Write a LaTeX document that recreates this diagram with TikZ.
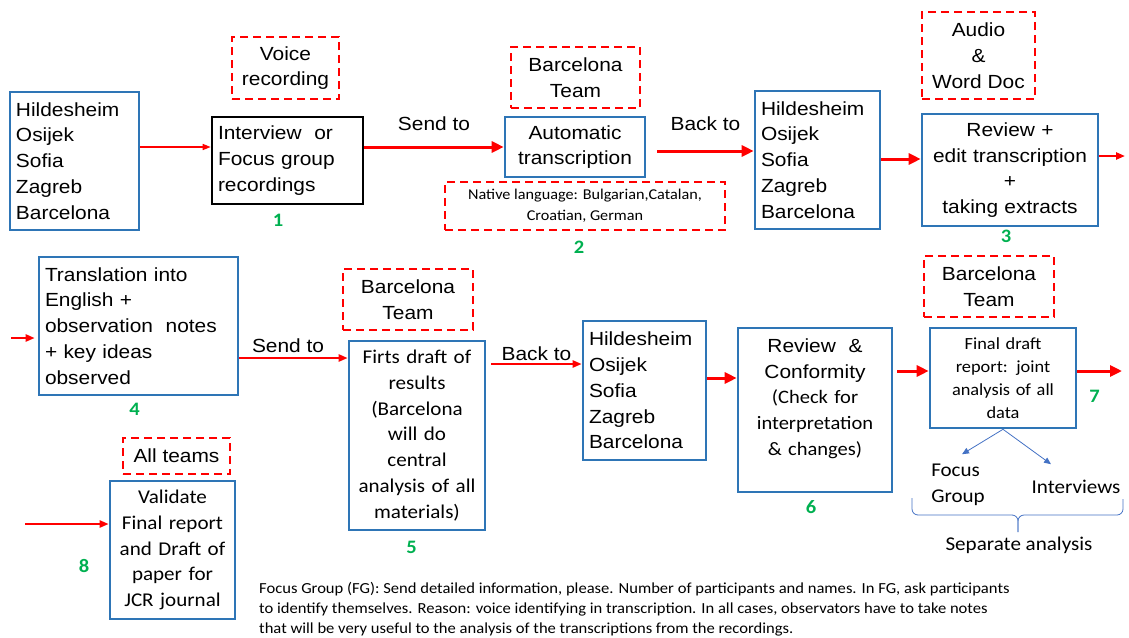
\documentclass[tikz,border=0pt]{standalone}
\usepackage{fontspec}
\usetikzlibrary{positioning, arrows.meta}
\newfontfamily\arialfont[FakeStretch=1.1]{Liberation Sans}
\newfontfamily\calfont[FakeStretch=1.08]{Carlito}
\definecolor{boxblue}{RGB}{46,117,182}
\definecolor{linkblue}{RGB}{68,114,196}
\definecolor{numgreen}{RGB}{0,176,80}
\definecolor{flowred}{RGB}{255,0,0}

\begin{document}
\begin{tikzpicture}[x=1pt, y=-1pt,
    box/.style={draw=boxblue, line width=2.6pt, inner sep=6pt, align=center, font=\arialfont\fontsize{19}{25.8}\selectfont},
    calbox/.style={box, font=\calfont\fontsize{19.5}{25.8}\selectfont},
    note/.style={draw=flowred, line width=2.5pt, dash pattern=on 8pt off 5pt, inner sep=4pt, align=center, font=\arialfont\fontsize{19}{25.8}\selectfont},
    num/.style={text=numgreen, inner sep=0pt, font=\calfont\bfseries\fontsize{19}{19}\selectfont},
    lbl/.style={font=\arialfont\fontsize{19}{25.8}\selectfont},
    cal/.style={align=left, font=\calfont\fontsize{19.5}{25.8}\selectfont},
    flow/.style={draw=flowred, line width=2.2pt, -{Triangle[length=9pt, width=7pt]}},
    thick flow/.style={draw=flowred, line width=3pt, -{Triangle[length=12pt, width=11pt]}},
    thin flow/.style={draw=flowred, line width=1.5pt, -{Triangle[length=8pt, width=6pt]}},
    split/.style={draw=linkblue, line width=0.8pt, -{Triangle[length=7pt, width=6pt]}}]
  \useasboundingbox (0,0) rectangle (1129,637);

  % first row
  \node[box, minimum width=129pt, minimum height=138pt, text width=117pt, align=left] (cities1) at (74.5,161) {Hildesheim\\Osijek\\Sofia\\Zagreb\\Barcelona};
  \node[note, minimum width=107pt, minimum height=62pt] (voice) at (285.5,68) {Voice\\recording};
  \node[box, draw=black, minimum width=151pt, minimum height=87pt, text width=139pt, align=left] (interview) at (287.5,160.5) {Interview\ \ or\\Focus group\\recordings};
  \node[note, minimum width=129pt, minimum height=61pt] (barca1) at (575.5,77.5) {Barcelona\\Team};
  \node[box, minimum width=140pt, minimum height=60pt, text width=128pt] (auto) at (575,147) {Automatic\\transcription};
  \node[note, minimum width=280pt, minimum height=48pt, font=\calfont\fontsize{15}{21}\selectfont] (native) at (585,206) {Native language: Bulgarian,Catalan,\\Croatian, German};
  \node[box, minimum width=125pt, minimum height=138pt, text width=113pt, align=left] (cities2) at (817.5,160) {Hildesheim\\Osijek\\Sofia\\Zagreb\\Barcelona};
  \node[note, minimum width=113pt, minimum height=87pt] (audio) at (978.5,55.5) {Audio\\\&\\Word Doc};
  \node[box, minimum width=176pt, minimum height=112pt, text width=164pt] (review) at (1010,170) {Review +\\edit transcription\\+\\taking extracts};
  \coordinate (out1) at (1125,156);

  % second row
  \coordinate (in1) at (11,338);
  \node[box, minimum width=199pt, minimum height=138pt, text width=187pt, align=left] (translation) at (138.5,326) {Translation into\\English +\\observation\ \ notes\\+ key ideas\\observed};
  \node[note, minimum width=130pt, minimum height=61pt] (barca2) at (408,299.5) {Barcelona\\Team};
  \node[calbox, minimum width=136pt, minimum height=189pt, text width=124pt] (draft) at (417,435.5) {Firts draft of\\results\\(Barcelona\\will do\\central\\analysis of all\\materials)};
  \node[box, minimum width=123pt, minimum height=139pt, text width=111pt, align=left] (cities3) at (644.5,390.5) {Hildesheim\\Osijek\\Sofia\\Zagreb\\Barcelona};
  \node[box, minimum width=154pt, minimum height=164pt, text width=142pt] (conf) at (815,410) {Review\ \ \&\\Conformity\\\calfont(Check for\\interpretation\\\& changes)\\\mbox{}};
  \node[note, minimum width=130pt, minimum height=61pt] (barca3) at (989,286.5) {Barcelona\\Team};
  \node[calbox, minimum width=146pt, minimum height=100pt, text width=134pt, font=\calfont\fontsize{17}{23}\selectfont] (final) at (1003,378) {Final draft\\report: joint\\analysis of all\\data};
  \coordinate (out2) at (1122,371);
  \node[cal] (fg) at (958,484.5) {Focus\\Group};
  \node[cal] (iv) at (1076,486.5) {Interviews};
  \node[cal] (sep) at (1019,545) {Separate analysis};

  % third row
  \coordinate (in2) at (25,524);
  \node[note, minimum width=107pt, minimum height=36pt] (allteams) at (176.5,456) {All teams};
  \node[calbox, minimum width=125pt, minimum height=138pt, text width=113pt] (validate) at (172.5,550) {Validate\\Final report\\and Draft of\\paper for\\JCR journal};
  \node[anchor=west, inner sep=0pt, align=left, font=\calfont\fontsize{15.35}{20}\selectfont] (foot) at (259,609) {Focus Group (FG): Send detailed information, please. Number of participants and names. In FG, ask participants\\to identify themselves. Reason: voice identifying in transcription. In all cases, observators have to take notes\\that will be very useful to the analysis of the transcriptions from the recordings.};

  % step numbers
  \node[num] (n1) at (278,220) {1};
  \node[num] (n2) at (579,247) {2};
  \node[num] (n3) at (1006,236) {3};
  \node[num] (n4) at (134.5,409.5) {4};
  \node[num] (n5) at (411.5,547.5) {5};
  \node[num] (n6) at (811,507) {6};
  \node[num] (n7) at (1094.5,396) {7};
  \node[num] (n8) at (84,566) {8};

  % connectors
  \draw[thin flow] ([yshift=14pt]cities1.east) -- ([yshift=13.5pt]interview.west);
  \draw[thick flow] ([yshift=13.5pt]interview.east) -- (auto.west) node[lbl, midway, above=11pt] (send1) {Send to};
  \draw[thick flow] ([xshift=11pt, yshift=-4pt]auto.east) -- ([yshift=9pt]cities2.west) node[lbl, midway, above=15pt] (back1) {Back to};
  \draw[thick flow] ([yshift=1pt]cities2.east) -- ([yshift=11pt]review.west);
  \draw[flow] ([yshift=14pt]review.east) -- (out1);
  \draw[flow, shorten >=3pt] (in1) -- ([yshift=-12pt]translation.west);
  \draw[flow] ([yshift=-32pt]translation.east) -- ([yshift=77.5pt]draft.west) node[lbl, pos=0.45, above=1pt] (send2) {Send to};
  \draw[flow] ([xshift=5pt, yshift=71.5pt]draft.east) -- ([yshift=26.5pt]cities3.west) node[lbl, midway, above=-1pt] (back2) {Back to};
  \draw[thick flow] ([yshift=12.5pt]cities3.east) -- ([yshift=32pt]conf.west);
  \draw[thick flow] ([xshift=4pt, yshift=39pt]conf.east) -- ([yshift=7pt]final.west);
  \draw[thick flow] ([yshift=7pt]final.east) -- (out2);
  \draw[flow] (in2) -- ([yshift=26pt]validate.west);
  \draw[split] (final.south) -- ([xshift=4pt, yshift=6pt]fg.north);
  \draw[split] (final.south) -- ([xshift=-25pt, yshift=12pt]iv.north);

  % brace under the two analyses
  \draw[linkblue, line width=0.8pt, rounded corners=6pt] (912,498) -- (912,515) -- (1018,515) -- (1018,532);
  \draw[linkblue, line width=0.8pt, rounded corners=6pt] (1123,499) -- (1123,515) -- (1018,515) -- (1018,532);
\end{tikzpicture}
\end{document}
